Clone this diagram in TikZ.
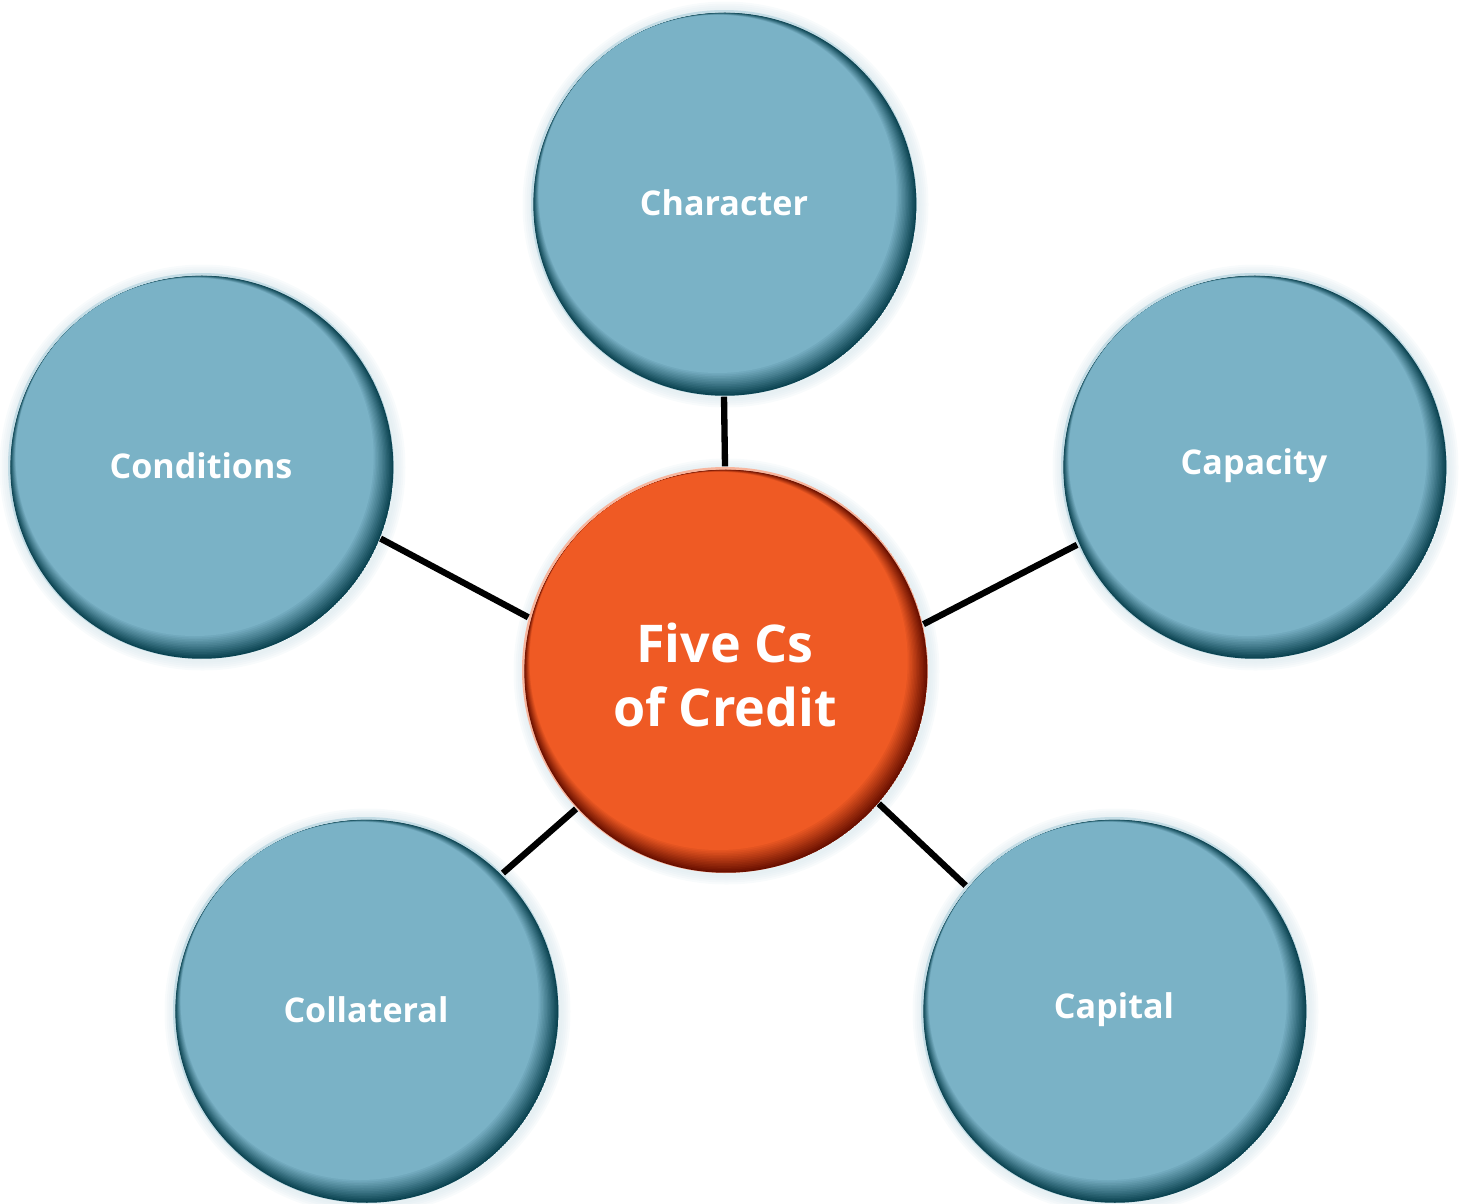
\documentclass[tikz,border=0pt]{standalone}
\usepackage{fontspec}
\setmainfont{Open Sans}
\usepackage{xcolor}
\definecolor{bluemain}{HTML}{7AB2C6}
\definecolor{bluedark}{HTML}{0C4452}
\definecolor{orangemain}{HTML}{EF5A24}
\definecolor{orangedark}{HTML}{6A1000}
\definecolor{halo}{HTML}{D3E3EA}

% bevelled ball: x, y, radius, main colour, dark colour
\newcommand{\bevelball}[5]{%
  \foreach \i in {1,...,5}
    \fill[halo,opacity=0.15] (#1+0.015,#2-0.015) circle ({#3+0.02*\i});
  \begin{scope}
    \clip (#1,#2) circle (#3);
    \fill[#4!45!white] (#1,#2) circle (#3);
    \foreach \k in {0,...,14}{
      \pgfmathsetmacro\off{-0.015+0.125*\k/14}
      \pgfmathsetmacro\rad{#3-0.015-0.125*\k/14}
      \pgfmathtruncatemacro\pc{100*\k/14}
      \fill[#4!\pc!#5] (#1-0.574*\off,#2+0.819*\off) circle (\rad);
    }
  \end{scope}}

\begin{document}
\begin{tikzpicture}[ball/.style={circle,minimum size=3.86cm,inner sep=0pt,text=white,font=\fontsize{9.7}{12}\selectfont\bfseries},
  hub/.style={circle,minimum size=4.06cm,inner sep=0pt,text=white,align=center,font=\fontsize{14.8}{18}\selectfont\bfseries},
  link/.style={line width=1.8pt,black}]
\useasboundingbox (0,0) rectangle (14.61,-12.03);
%\draw[help lines] (0,0) grid (15,-12);
\bevelball{7.24}{-2.03}{1.93}{bluemain}{bluedark}
\bevelball{2.01}{-4.66}{1.93}{bluemain}{bluedark}
\bevelball{12.54}{-4.66}{1.93}{bluemain}{bluedark}
\bevelball{3.66}{-10.10}{1.93}{bluemain}{bluedark}
\bevelball{11.14}{-10.10}{1.93}{bluemain}{bluedark}
\bevelball{7.25}{-6.70}{2.03}{orangemain}{orangedark}
\node [hub] (five) at (7.25,-6.70){};
\node [text=white,align=center,font=\fontsize{14.8}{18}\selectfont\bfseries] (fivetext) at (7.25,-6.75){Five Cs\\of Credit};
\node [ball] (char) at (7.24,-2.03){Character};
\node [ball] (cond) at (2.01,-4.66){Conditions};
\node [ball] (capa) at (12.54,-4.66){Capacity};
\node [ball] (coll) at (3.66,-10.10){Collateral};
\node [ball] (capi) at (11.14,-10.10){Capital};
\draw [link] (five.90) -- (char.-90);
\draw [link] (five.165) -- (cond.-22);
\draw [link] (five.13) -- (capa.204);
\draw [link] (five.223) -- (coll.45);
\draw [link] (five.-41.5) -- (capi.140.5);
\end{tikzpicture}
\end{document}
